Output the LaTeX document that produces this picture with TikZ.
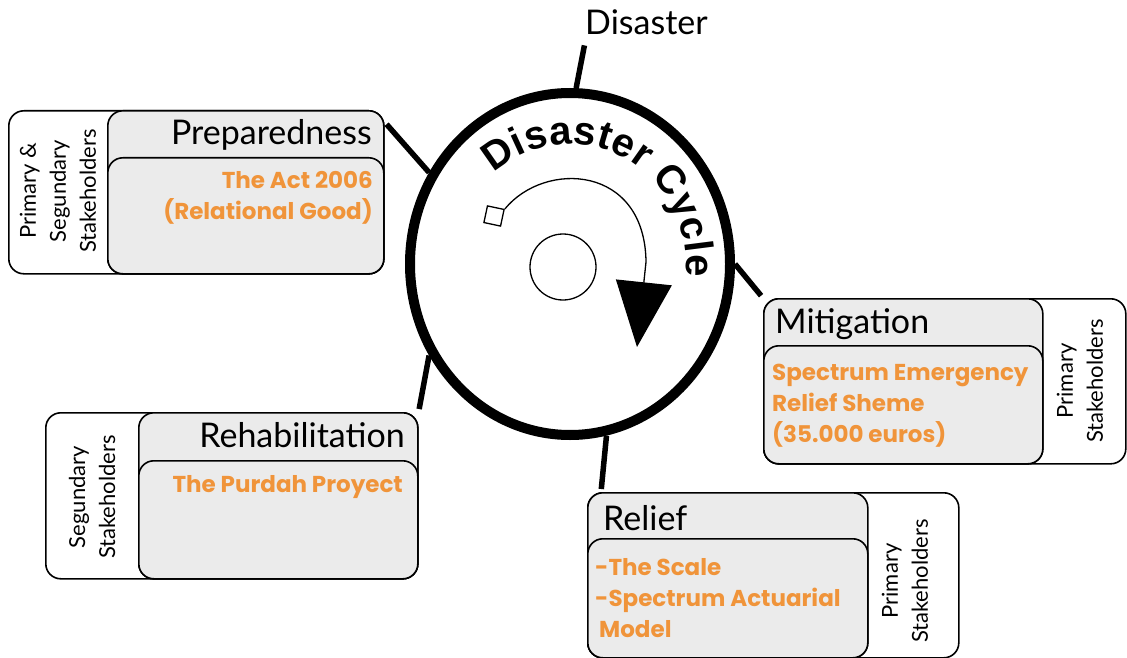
\documentclass[tikz,border=0pt]{standalone}
\usepackage{fontspec}
\setmainfont{Lato}
\newfontfamily\gothfont{Poppins}
\newfontfamily\arialfont{Liberation Sans}
\usetikzlibrary{shapes.geometric,arrows.meta,decorations.text}
\definecolor{actorange}{RGB}{240,148,58}
\pgfdeclarelayer{background}
\pgfsetlayers{background,main}

\begin{document}
\begin{tikzpicture}[x=1pt,y=-1pt,
    panel/.style={draw,line width=1.6pt,rounded corners=15pt,fill=white,inner sep=0pt},
    phase/.style={panel,fill=black!8},
    title/.style={font={\fontsize{34}{36}\selectfont},inner sep=0pt},
    measure/.style={font={\gothfont\bfseries\fontsize{23}{31}\selectfont},text=actorange,inner sep=0pt},
    holders/.style={font={\fontsize{22}{30}\selectfont},align=center,rotate=90,inner sep=0pt},
    link/.style={line width=5.5pt,shorten >=3pt}]
\useasboundingbox (0,0) rectangle (1127,658);

% the cycle
\node[ellipse,draw,line width=10pt,minimum width=320,minimum height=342] (cyc) at (570,264) {};
\node[circle,draw,line width=1.3pt,minimum size=66] (hub) at (563,267) {};
\node[draw,fill=white,line width=1.3pt,minimum size=17,inner sep=0pt,rotate=-12] (start) at (494,216) {};
\coordinate (tip) at (637,347);
\draw[line width=1.3pt,-{Triangle[length=65pt,width=56pt]}] (start.north east)
    .. controls (545,160) and (645,165) .. (646,262) -- (tip);
\path[decorate,decoration={text along path,text align={fit to path},
    text={|\arialfont\bfseries\fontsize{40}{40}\selectfont|Disaster Cycle}}]
    ([shift={(131:116pt and 120pt)}]cyc.center) arc[start angle=131,end angle=-6,x radius=116pt,y radius=120pt];
\node[title,anchor=base west] (dis) at (585,35) {Disaster};

% Preparedness
\node[panel,anchor=north west,minimum width=375,minimum height=163] (prepOut) at (8,110) {};
\node[phase,anchor=north east,minimum width=276,minimum height=163] (prepHead) at (prepOut.north east) {};
\node[phase,anchor=south east,minimum width=276,minimum height=116] (prepBody) at (prepOut.south east) {};
\node[title,anchor=base east] (prepTitle) at (372,145) {Preparedness};
\node[measure,align=right,anchor=base east] (prepAct) at (373,219) {The Act 2006\\(Relational Good)};
\node[holders] (prepWho) at (58,191) {Primary \&\\Segundary\\Stakeholders};

% Mitigation
\node[panel,anchor=north west,minimum width=362,minimum height=165] (mitOut) at (763,298) {};
\node[phase,anchor=north west,minimum width=279,minimum height=165] (mitHead) at (mitOut.north west) {};
\node[phase,anchor=south west,minimum width=279,minimum height=118] (mitBody) at (mitOut.south west) {};
\node[title,anchor=base west] (mitTitle) at (775,333) {Mitigation};
\node[measure,align=left,anchor=base west] (mitPlan) at (772,442) {Spectrum Emergency\\Relief Sheme\\(35.000 euros)};
\node[holders] (mitWho) at (1080,381) {Primary\\Stakeholders};

% Rehabilitation
\node[panel,anchor=north west,minimum width=372,minimum height=166] (rehOut) at (45,412) {};
\node[phase,anchor=north east,minimum width=279,minimum height=166] (rehHead) at (rehOut.north east) {};
\node[phase,anchor=south east,minimum width=279,minimum height=118] (rehBody) at (rehOut.south east) {};
\node[title,anchor=base east] (rehTitle) at (405,447) {Rehabilitation};
\node[measure,anchor=base east] (rehPlan) at (403,492) {The Purdah Proyect};
\node[holders] (rehWho) at (92,497) {Segundary\\Stakeholders};

% Relief
\node[panel,anchor=north west,minimum width=371,minimum height=165] (relOut) at (587,492) {};
\node[phase,anchor=north west,minimum width=280,minimum height=165] (relHead) at (relOut.north west) {};
\node[phase,anchor=south west,minimum width=280,minimum height=119] (relBody) at (relOut.south west) {};
\node[title,anchor=base west] (relTitle) at (603,530) {Relief};
\node[measure,align=left,anchor=base west] (relPlan) at (595,637) {-The Scale\\-Spectrum Actuarial\\\hspace{4pt}Model};
\node[holders] (relWho) at (905,581) {Primary\\Stakeholders};

% links to the cycle
\begin{pgfonlayer}{background}
\draw[link] (cyc.88) -- ([yshift=-7pt]dis.south west);
\draw[link] (cyc.147) -- ([yshift=-12pt]prepOut.north east);
\draw[link] (cyc.0) -- (mitOut.north west);
\draw[link] (cyc.213) -- (rehOut.north east);
\draw[link] (cyc.282) -- ([xshift=14pt]relOut.north west);
\end{pgfonlayer}
\end{tikzpicture}
\end{document}
